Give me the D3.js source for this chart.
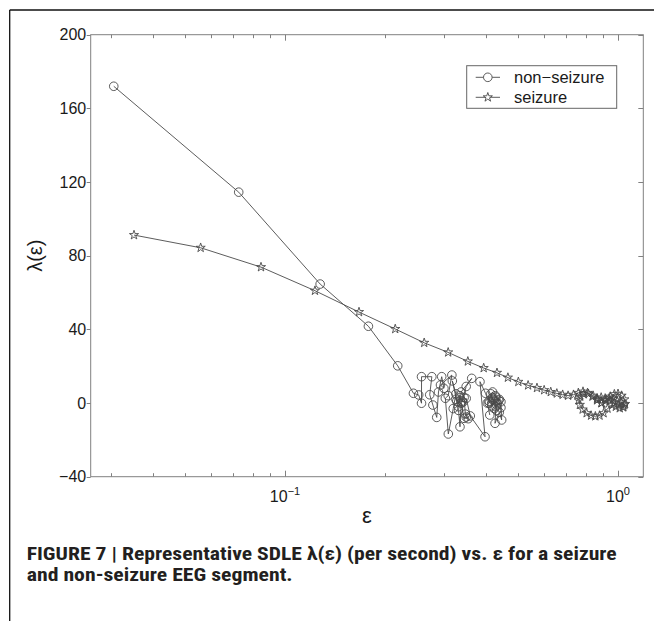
<!DOCTYPE html>
<html>
<head>
<meta charset="utf-8">
<script src="https://cdn.jsdelivr.net/npm/d3@7"></script>
<style>
body { margin: 0; background: #fff; }
svg text { font-family: "Liberation Sans", Arial, Helvetica, sans-serif; fill: #1a1a1a; }
.caption { font-family: "Liberation Sans Narrow", "Roboto Condensed", "Liberation Sans", Arial, sans-serif; font-weight: bold; fill: #231f20; }
</style>
</head>
<body>
<div id="chart"></div>
<script>
// non-seizure curve: epsilon and lambda(eps)
const nsEps = [0.0306, 0.0726, 0.1275, 0.178, 0.218, 0.243, 0.252, 0.257, 0.257, 0.276,
  0.272, 0.278, 0.2855, 0.289, 0.2955, 0.300, 0.293, 0.317, 0.309, 0.303,
  0.3093, 0.320, 0.326, 0.318, 0.328, 0.335, 0.332, 0.3353, 0.338, 0.345,
  0.350, 0.355, 0.348, 0.345, 0.338, 0.3636, 0.350, 0.340, 0.332, 0.326,
  0.335, 0.342, 0.350, 0.360, 0.3987, 0.385, 0.400, 0.410, 0.420, 0.430,
  0.4272, 0.440, 0.4473, 0.445, 0.430, 0.420, 0.410, 0.425, 0.435, 0.440,
  0.430, 0.418, 0.428, 0.438, 0.445, 0.432, 0.422, 0.415, 0.405, 0.412];
const nsLambda = [172, 114.5, 64.6, 41.7, 20.2, 5.3, 4.4, -0.1, 14.3, 14.3,
  4.5, -1.1, -7.8, 6, 14.3, 8, 9.8, 15.2, 4, 2.6,
  -16.8, -3, 5, 12, 1, 3, -4, -12.9, -0.1, -8.3,
  -7.6, -8.5, -6, 3, 6, 13.4, 9, 1, -2, 2,
  4, 0.5, 2.5, -7, -18.3, 11.6, 5.3, -0.1, 3, -2,
  -11, -5, -9.2, 0.7, 3.2, 6, 1, -3, 0, 2,
  1, -1.5, 4, 1.5, -2.5, -4, 2, 5, 0, -6.5];

// seizure curve
const szEps = [0.0352, 0.0558, 0.0847, 0.123, 0.1668, 0.2143, 0.2618, 0.309, 0.354, 0.395,
  0.433, 0.467, 0.502, 0.537, 0.571, 0.600, 0.628, 0.655, 0.682, 0.708,
  0.735, 0.760, 0.785, 0.810, 0.838, 0.865, 0.892, 0.920, 0.948, 0.975,
  1.000, 1.025, 1.045, 1.050, 1.038, 1.012, 0.985, 0.958, 0.930, 0.905,
  0.880, 0.855, 0.830, 0.805, 0.783, 0.768, 0.762, 0.770, 0.790, 0.815,
  0.842, 0.868, 0.892, 0.915, 0.940, 0.967, 0.995, 1.022, 1.045, 1.035,
  1.005, 0.975, 0.945, 0.915, 0.890, 0.865];
const szLambda = [91.2, 84.3, 73.8, 61, 49.4, 40.2, 32.7, 27.5, 22.6, 19,
  16.4, 13.8, 11.5, 9.6, 8.2, 7, 6, 5.2, 4.5, 4,
  4.5, 5.5, 6.2, 5.5, 3.5, 1.5, 0, 1.5, 3.5, 4.8,
  5, 4, 2, -0.5, -2, -2.8, -2, -1, -3, -5.5,
  -6.8, -7.2, -6.8, -5.5, -3.5, -1, 1.5, 3.5, 4.8, 5,
  4, 2, 0, 1, 2.5, 2.2, 1, 0.5, -1, -2.3,
  -1.2, 0, 1.5, 2.5, 3, 2.5];

const yTicks = [-40, 0, 40, 80, 120, 160, 200];
const xMajor = [0.1, 1];
const xMajorLabels = ["\u22121", "0"];
const seriesNames = ["non\u2212seizure", "seizure"];

const W = 654, H = 621;
const margin = { left: 90.7, right: 643.3, top: 34.7, bottom: 476.7 };

const svg = d3.select("#chart").append("svg")
  .attr("width", W)
  .attr("height", H);

// page frame
svg.append("line").attr("x1", 9.7).attr("x2", W).attr("y1", 10).attr("y2", 10)
  .attr("stroke", "#111").attr("stroke-width", 1.3);
svg.append("line").attr("x1", 9.7).attr("x2", 9.7).attr("y1", 10).attr("y2", H)
  .attr("stroke", "#111").attr("stroke-width", 1.3);

const x = d3.scaleLog().domain([0.02609, 1.191]).range([margin.left, margin.right]);
const y = d3.scaleLinear().domain([-40, 200]).range([margin.bottom, margin.top]);

const axisColor = "#808080";
const g = svg.append("g");

// box
g.append("rect")
  .attr("x", margin.left).attr("y", margin.top)
  .attr("width", margin.right - margin.left).attr("height", margin.bottom - margin.top)
  .attr("fill", "none").attr("stroke", axisColor).attr("stroke-width", 1);

// x ticks (bottom and top, inward)
x.ticks().forEach(t => {
  const major = xMajor.some(m => Math.abs(m - t) < 1e-9);
  const len = major ? 6 : 3.5;
  const px = Math.round(x(t)) + 0.5;
  g.append("line").attr("x1", px).attr("x2", px).attr("y1", margin.bottom).attr("y2", margin.bottom - len)
    .attr("stroke", axisColor);
  g.append("line").attr("x1", px).attr("x2", px).attr("y1", margin.top).attr("y2", margin.top + len)
    .attr("stroke", axisColor);
});

// y ticks
yTicks.forEach(t => {
  const py = Math.round(y(t)) + 0.5;
  g.append("line").attr("x1", margin.left - 4).attr("x2", margin.left).attr("y1", py).attr("y2", py)
    .attr("stroke", axisColor);
  g.append("line").attr("x1", margin.right - 5).attr("x2", margin.right).attr("y1", py).attr("y2", py)
    .attr("stroke", axisColor);
  g.append("text")
    .attr("x", margin.left - 4.5).attr("y", y(t))
    .attr("dy", "0.36em")
    .attr("text-anchor", "end")
    .style("font-size", "16px")
    .text(t < 0 ? "\u2212" + Math.abs(t) : t);
});

// x tick labels 10^n
xMajor.forEach((t, i) => {
  const lab = g.append("text")
    .attr("x", x(t)).attr("y", 502.3)
    .attr("text-anchor", "middle")
    .style("font-size", "16px");
  lab.append("tspan").text("10");
  lab.append("tspan").attr("dy", -7).style("font-size", "11px").text(xMajorLabels[i]);
});

// axis labels
g.append("text")
  .attr("x", (margin.left + margin.right) / 2).attr("y", 523)
  .attr("text-anchor", "middle")
  .style("font-size", "22px")
  .text("\u03b5");

g.append("text")
  .attr("transform", `translate(42, ${(margin.top + margin.bottom) / 2}) rotate(-90)`)
  .attr("text-anchor", "middle")
  .style("font-size", "20px")
  .text("\u03bb(\u03b5)");

// lines
const lineColor = "#4a4a4a";
const nsData = nsEps.map((e, i) => ({ e: e, l: nsLambda[i] }));
const szData = szEps.map((e, i) => ({ e: e, l: szLambda[i] }));
const line = d3.line().x(d => x(d.e)).y(d => y(d.l));

svg.append("clipPath").attr("id", "plotclip")
  .append("rect").attr("x", margin.left).attr("y", margin.top)
  .attr("width", margin.right - margin.left).attr("height", margin.bottom - margin.top);

const plot = g.append("g").attr("clip-path", "url(#plotclip)");

plot.append("path").datum(nsData)
  .attr("d", line).attr("fill", "none")
  .attr("stroke", lineColor).attr("stroke-width", 0.9);
plot.append("path").datum(szData)
  .attr("d", line).attr("fill", "none")
  .attr("stroke", lineColor).attr("stroke-width", 0.9);

const star = d3.symbol().type(d3.symbolStar).size(26);

plot.selectAll(".ns").data(nsData).enter()
  .append("circle")
  .attr("class", "ns")
  .attr("cx", d => x(d.e)).attr("cy", d => y(d.l))
  .attr("r", 4.3)
  .attr("fill", "none").attr("stroke", lineColor).attr("stroke-width", 0.9);

plot.selectAll(".sz").data(szData).enter()
  .append("path")
  .attr("class", "sz")
  .attr("transform", d => `translate(${x(d.e)},${y(d.l)})`)
  .attr("d", star)
  .attr("fill", "none").attr("stroke", lineColor).attr("stroke-width", 0.9);

// legend
const leg = g.append("g");
leg.append("rect")
  .attr("x", 466.7).attr("y", 65.7).attr("width", 150).attr("height", 42.6)
  .attr("fill", "#fff").attr("stroke", "#666").attr("stroke-width", 1);
seriesNames.forEach((name, i) => {
  const ly = 77.3 + i * 20;
  leg.append("line").attr("x1", 475.7).attr("x2", 500).attr("y1", ly).attr("y2", ly)
    .attr("stroke", lineColor).attr("stroke-width", 0.9);
  if (i === 0) {
    leg.append("circle").attr("cx", 487.8).attr("cy", ly).attr("r", 4.3)
      .attr("fill", "#fff").attr("stroke", lineColor).attr("stroke-width", 0.9);
  } else {
    leg.append("path").attr("transform", `translate(487.8,${ly})`).attr("d", star)
      .attr("fill", "#fff").attr("stroke", lineColor).attr("stroke-width", 0.9);
  }
  leg.append("text")
    .attr("x", 514).attr("y", ly).attr("dy", "0.36em")
    .style("font-size", "16.5px")
    .text(name);
});

// caption
svg.append("text").attr("class", "caption")
  .attr("x", 26.7).attr("y", 560)
  .attr("textLength", 590).attr("lengthAdjust", "spacingAndGlyphs")
  .style("font-size", "17.5px")
  .text("FIGURE 7 | Representative SDLE \u03bb(\u03b5) (per second) vs. \u03b5 for a seizure");
svg.append("text").attr("class", "caption")
  .attr("x", 26.7).attr("y", 581)
  .attr("textLength", 266).attr("lengthAdjust", "spacingAndGlyphs")
  .style("font-size", "17.5px")
  .text("and non-seizure EEG segment.");
</script>
</body>
</html>
